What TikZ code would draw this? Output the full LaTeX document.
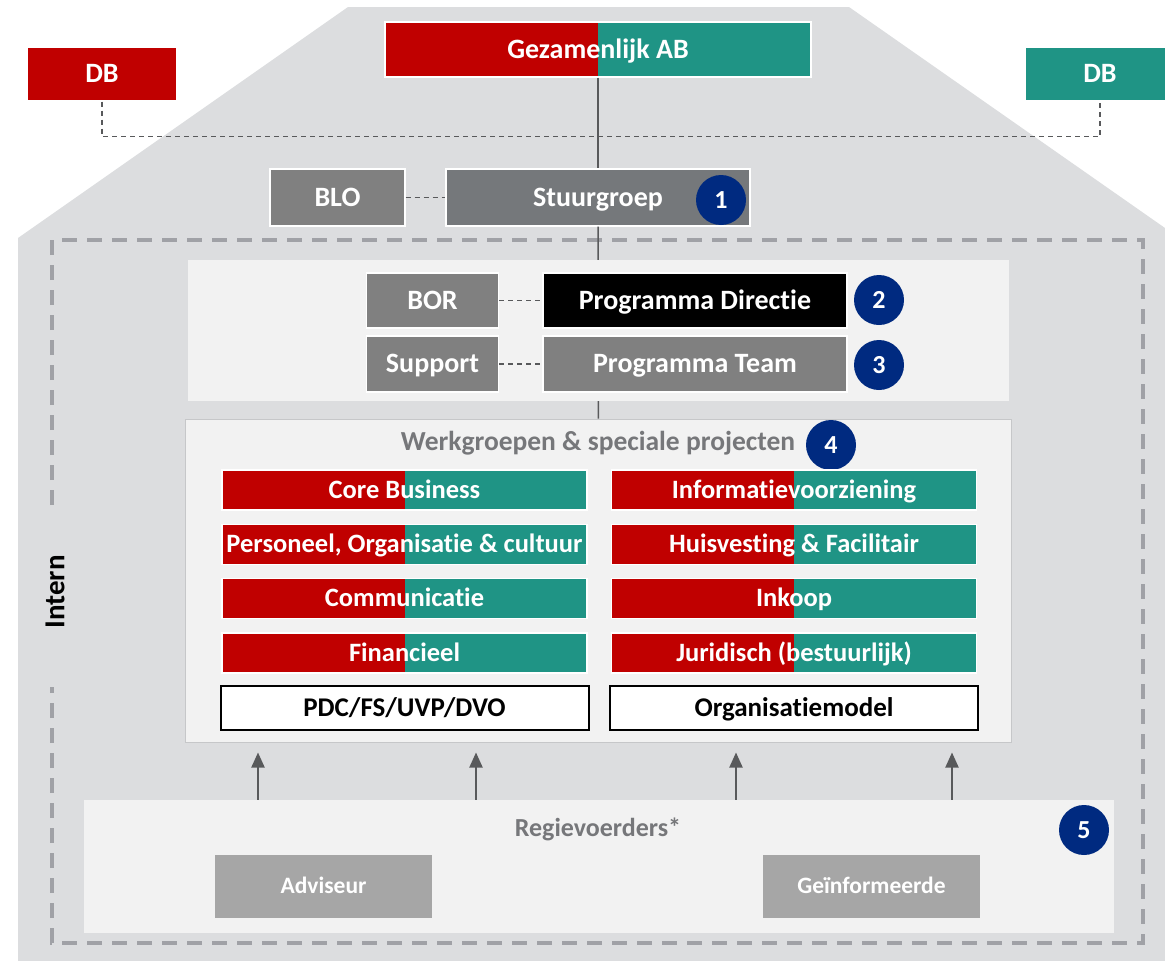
\documentclass[tikz,border=0pt]{standalone}
\usepackage{fontspec}
\setmainfont{Carlito}[Ligatures=NoCommon]
\usetikzlibrary{arrows.meta}

\definecolor{abred}{HTML}{C00000}
\definecolor{abteal}{HTML}{1F9485}
\definecolor{housegray}{HTML}{DCDDDF}
\definecolor{panelgray}{HTML}{F2F2F2}
\definecolor{stuurgray}{HTML}{75787B}
\definecolor{midgray}{HTML}{808080}
\definecolor{lightbox}{HTML}{A6A6A6}
\definecolor{badgeblue}{HTML}{002A80}
\definecolor{linegray}{HTML}{58595B}
\definecolor{dashgray}{HTML}{A0A1A6}
\definecolor{titlegray}{HTML}{76777A}

\begin{document}
\begin{tikzpicture}[x=1pt, y=-1pt,
  box/.style={draw=white, line width=1.2pt, text=white, inner sep=0pt,
    text height=17.5pt, text depth=0pt, font=\fontsize{28}{32}\selectfont\bfseries},
  split/.style={box, fill=abred, path picture={
    \fill[abteal] (path picture bounding box.north) rectangle (path picture bounding box.south east);}},
  bar/.style={split, minimum width=365pt, minimum height=40pt,
    text height=16.5pt, font=\fontsize{26.5}{30}\selectfont\bfseries},
  whitebar/.style={draw=black, line width=2pt, fill=white, minimum width=368pt, minimum height=44pt,
    text height=17pt, text depth=0pt, font=\fontsize{27}{31}\selectfont\bfseries},
  panel/.style={fill=panelgray, inner sep=0pt},
  badge/.style={circle, fill=badgeblue, text=white, minimum size=50pt, inner sep=0pt,
    text height=16.5pt, text depth=0pt, font=\fontsize{26}{30}\selectfont\bfseries},
  title/.style={text=titlegray, text height=17pt, text depth=0pt,
    font=\fontsize{27.5}{32}\selectfont\bfseries},
  link/.style={linegray, line width=1.5pt},
  dotlink/.style={linegray, line width=1.6pt, dash pattern=on 5pt off 4pt},
  outerdash/.style={dashgray, line width=3.5pt, dash pattern=on 15pt off 10pt},
  uparrow/.style={linegray, line width=2pt, -{Triangle[width=13pt,length=15pt]}, shorten >=10pt}
]
  \useasboundingbox (0,0) rectangle (1165,961);
  \clip (0,0) rectangle (1165,961);

  % the house
  \fill[housegray] (18,238) -- (348,7) -- (849,7) -- (1165,228) -- (1165,961) -- (18,961) -- cycle;

  % the dashed line round the inner part, open where Intern stands
  \draw[outerdash] (52,505) -- (52,240) -- (1143,240) -- (1143,943) -- (52,943) -- (52,687);
  \node[rotate=90, font=\fontsize{29}{33}\selectfont\bfseries] (intern) at (55,592) {Intern};

  % top level
  \node[split, minimum width=426pt, minimum height=55pt] (gez) at (598,49.5) {Gezamenlijk AB};
  \node[box, fill=abred, minimum width=150pt, minimum height=54pt] (dbl) at (102,74) {DB};
  \node[box, fill=abteal, minimum width=150pt, minimum height=54pt] (dbr) at (1100,74) {DB};
  \draw[dotlink] (dbl.south) -- ++(0,35) -| (dbr.south);

  \node[box, fill=stuurgray, minimum width=304pt, minimum height=57pt] (stuur) at (598,197.5) {Stuurgroep};
  \node[box, fill=midgray, minimum width=135pt, minimum height=57pt] (blo) at (337.5,197.5) {BLO};
  \node[badge] (b1) at (721,200) {1};
  \draw[link] (gez) -- (stuur);
  \draw[dotlink] (blo) -- (stuur);

  % programma
  \node[panel, minimum width=821pt, minimum height=141pt] (prog) at (598.5,330.5) {};
  \node[box, fill=midgray, minimum width=132pt, minimum height=55pt] (bor) at (432.5,300.5) {BOR};
  \node[box, fill=black, minimum width=304pt, minimum height=55pt] (dir) at (695,300.5) {Programma Directie};
  \node[box, fill=midgray, minimum width=132pt, minimum height=56pt] (sup) at (432.5,364) {Support};
  \node[box, fill=midgray, minimum width=304pt, minimum height=56pt] (team) at (695,364) {Programma Team};
  \node[badge] (b2) at (879,300) {2};
  \node[badge] (b3) at (879,365) {3};
  \draw[link] (stuur) -- (prog);
  \draw[dotlink] (bor) -- (dir);
  \draw[dotlink] (sup) -- (team);

  % werkgroepen
  \node[panel, draw=housegray!90!black, line width=1pt, minimum width=826pt, minimum height=323pt] (werk) at (598,580.5) {};
  \draw[link] (prog) -- (werk);
  \node[title] (werktitle) at (598,442) {Werkgroepen \& speciale projecten};
  \node[badge] (b4) at (831,445) {4};
  \foreach \txt [count=\i] in {Core Business, {Personeel, Organisatie \& cultuur}, Communicatie, Financieel}
    \node[bar] (wl\i) at (404.5,{490+54.3*(\i-1)}) {\txt};
  \foreach \txt [count=\i] in {Informatievoorziening, Huisvesting \& Facilitair, Inkoop, Juridisch (bestuurlijk)}
    \node[bar] (wr\i) at (794,{490+54.3*(\i-1)}) {\txt};
  \node[whitebar] (pdc) at (404.5,708) {PDC/FS/UVP/DVO};
  \node[whitebar] (orgm) at (794,708) {Organisatiemodel};

  % regievoerders
  \node[panel, minimum width=1030pt, minimum height=133pt] (regie) at (599,866.5) {};
  \node[title, text height=16pt, font=\fontsize{26}{30}\selectfont\bfseries] (regietitle) at (598,828) {Regievoerders*};
  \node[badge] (b5) at (1084,830) {5};
  \node[box, draw=none, fill=lightbox, minimum width=217pt, minimum height=63pt, text height=14.5pt,
    font=\fontsize{23.5}{27}\selectfont\bfseries] (adv) at (323.5,886.5) {Adviseur};
  \node[box, draw=none, fill=lightbox, minimum width=217pt, minimum height=63pt, text height=14.5pt,
    font=\fontsize{23.5}{27}\selectfont\bfseries] (gein) at (871.5,886.5) {Geïnformeerde};
  \foreach \x in {258,476,736,952}
    \draw[uparrow] (regie.north -| \x,0) -- (werk.south -| \x,0);
\end{tikzpicture}
\end{document}
